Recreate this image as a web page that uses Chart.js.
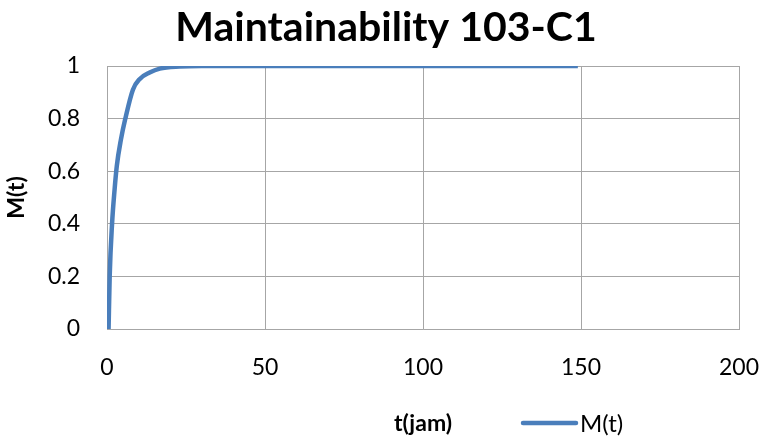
<!DOCTYPE html>
<html>
<head>
<meta charset="utf-8">
<script src="https://cdn.jsdelivr.net/npm/chart.js@4.4.1/dist/chart.umd.min.js"></script>
<style>
  html, body { margin: 0; padding: 0; background: #ffffff; }
  #wrap { width: 761px; height: 439px; position: relative; }
</style>
</head>
<body>
<div id="wrap"><canvas id="c" width="761" height="439"></canvas></div>
<script>
// Maintainability curve M(t) against repair time t (jam)
const timeJam = [0.5, 0.85, 1.6, 2.4, 3.1, 4.4, 5.8, 8.2, 10.3, 13.5, 16.7, 23, 30, 149];
const maintainability = [0, 0.2, 0.4, 0.53, 0.62, 0.72, 0.8, 0.91, 0.95, 0.975, 0.99, 0.998, 1, 1];

const xTickValues = [0, 50, 100, 150, 200];
const yTickValues = [0, 0.2, 0.4, 0.6, 0.8, 1];
const yTickLabels = ['0', '0.2', '0.4', '0.6', '0.8', '1'];

const chartTitle = 'Maintainability 103-C1';
const xTitle = 't(jam)';
const yTitle = 'M(t)';
const seriesName = 'M(t)';

const FONT = 'Lato, "Open Sans", "Liberation Sans", sans-serif';
const LINE_BLUE = '#4a7ebb';
const GRID = '#a6a6a6';

const points = timeJam.map((t, i) => ({ x: t, y: maintainability[i] }));

// Title and bottom legend drawn on the canvas
const decorations = {
  id: 'decorations',
  afterDraw(chart) {
    const ctx = chart.ctx;
    ctx.save();
    ctx.fillStyle = '#000000';
    ctx.font = 'bold 41px ' + FONT;
    ctx.textAlign = 'center';
    ctx.textBaseline = 'alphabetic';
    ctx.fillText(chartTitle, 386, 41);

    // legend entry
    const ds = chart.data.datasets[0];
    ctx.strokeStyle = ds.borderColor;
    ctx.lineWidth = 4.5;
    ctx.lineCap = 'round';
    ctx.beginPath();
    ctx.moveTo(523, 423);
    ctx.lineTo(576, 423);
    ctx.stroke();
    ctx.font = '24px ' + FONT;
    ctx.textAlign = 'left';
    ctx.textBaseline = 'middle';
    ctx.fillStyle = '#000000';
    ctx.fillText(ds.label, 580, 424);
    ctx.restore();
  }
};

new Chart(document.getElementById('c'), {
  type: 'line',
  data: {
    datasets: [{
      label: seriesName,
      data: points,
      borderColor: LINE_BLUE,
      backgroundColor: LINE_BLUE,
      borderWidth: 4.5,
      pointRadius: 0,
      cubicInterpolationMode: 'monotone',
      fill: false
    }]
  },
  options: {
    responsive: false,
    animation: false,
    devicePixelRatio: 1,
    layout: { padding: { left: 0, right: 0, top: 66, bottom: 0 } },
    plugins: {
      legend: { display: false },
      title: { display: false },
      tooltip: { enabled: false }
    },
    scales: {
      x: {
        type: 'linear',
        min: 0,
        max: 200,
        afterBuildTicks: (scale) => { scale.ticks = xTickValues.map(v => ({ value: v })); },
        afterFit: (scale) => {
          scale.height = 110;
          scale.paddingLeft = 0;
          scale.paddingRight = 22;
        },
        grid: { color: GRID, lineWidth: 1, drawTicks: false },
        border: { color: GRID, width: 1 },
        ticks: {
          color: '#000000',
          font: { family: FONT, size: 23 },
          padding: 25,
          maxRotation: 0
        },
        title: {
          display: true,
          text: xTitle,
          color: '#000000',
          font: { family: FONT, size: 23, weight: 'bold' },
          padding: { top: 0, bottom: 2 }
        }
      },
      y: {
        type: 'linear',
        min: 0,
        max: 1,
        afterBuildTicks: (scale) => { scale.ticks = yTickValues.map(v => ({ value: v })); },
        afterFit: (scale) => {
          scale.width = 107;
          scale.paddingTop = 0;
          scale.paddingBottom = 0;
        },
        grid: { color: GRID, lineWidth: 1, drawTicks: false },
        border: { color: GRID, width: 1 },
        ticks: {
          color: '#000000',
          font: { family: FONT, size: 23 },
          padding: 27,
          callback: (v) => yTickLabels[yTickValues.indexOf(v)]
        },
        title: {
          display: true,
          text: yTitle,
          color: '#000000',
          font: { family: FONT, size: 23, weight: 'bold' },
          padding: { top: 3, bottom: 0 }
        }
      }
    }
  },
  plugins: [decorations]
});
</script>
</body>
</html>
